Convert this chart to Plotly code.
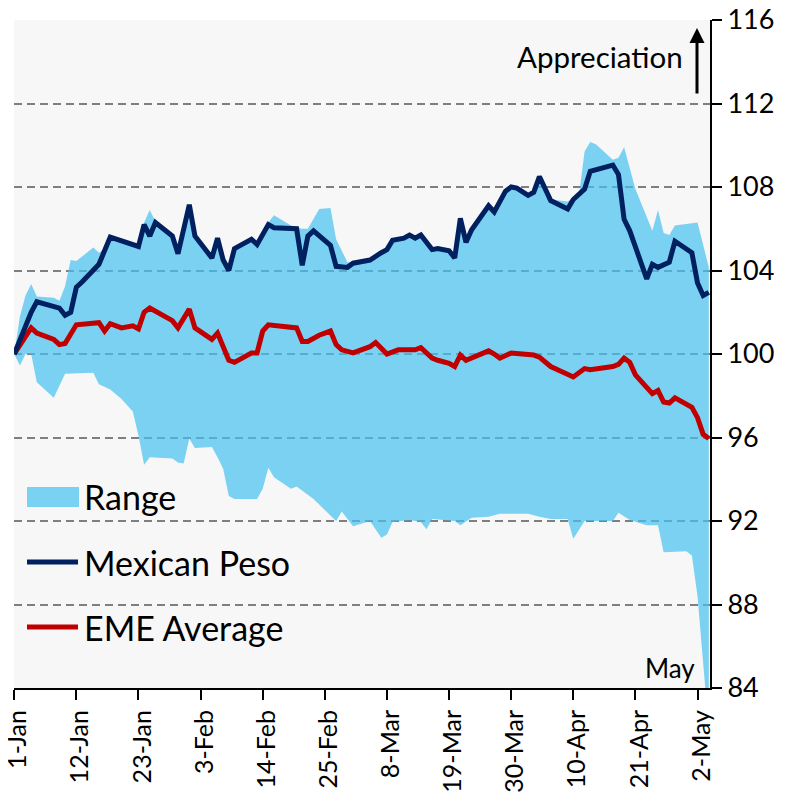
import plotly.graph_objects as go

YEAR = "2018-"

# ---- data ----
range_hi_dates = ["01-01", "01-02", "01-03", "01-04", "01-05", "01-08", "01-09", "01-10", "01-11", "01-12",
                  "01-15", "01-16", "01-17", "01-18", "01-23", "01-24", "01-25", "01-26", "01-29", "01-30",
                  "02-01", "02-02", "02-05", "02-06", "02-07", "02-08", "02-09", "02-12", "02-13", "02-15",
                  "02-16", "02-19", "02-20", "02-21", "02-22", "02-24", "02-26", "02-27", "03-01", "03-02",
                  "03-05", "03-07", "03-08", "03-09", "03-11", "03-12", "03-13", "03-14", "03-16", "03-17",
                  "03-19", "03-20", "03-21", "03-22", "03-23", "03-26", "03-27", "03-29", "03-30", "03-31",
                  "04-02", "04-03", "04-04", "04-06", "04-09", "04-10", "04-11", "04-12", "04-13", "04-14",
                  "04-17", "04-18", "04-19", "04-21", "04-24", "04-25", "04-26", "04-27", "04-28", "05-02",
                  "05-03", "05-04"]
range_hi = [100.0, 101.8, 102.8, 103.35, 102.75, 102.7, 102.55, 103.25, 104.5, 104.45,
            105.1, 104.85, 105.05, 105.65, 105.2, 106.3, 106.9, 106.35, 105.7, 104.85,
            107.2, 105.7, 104.65, 105.6, 104.55, 104.05, 105.1, 105.55, 105.3, 106.3,
            106.65, 106.15, 106.05, 106.0, 106.0, 106.95, 107.0, 105.5, 104.4, 104.4,
            104.55, 104.9, 105.05, 105.5, 105.6, 105.75, 105.6, 105.75, 105.05, 105.1,
            105.0, 104.65, 106.55, 105.4, 106.0, 107.15, 106.85, 107.85, 108.05, 108.0,
            107.65, 107.8, 108.55, 107.4, 107.3, 107.5, 107.6, 109.7, 110.15, 110.05,
            109.3, 109.4, 109.9, 107.9, 105.9, 106.9, 105.8, 105.7, 106.15, 106.3,
            105.2, 104.15]

range_lo_dates = ["01-01", "01-02", "01-03", "01-04", "01-05", "01-08", "01-10", "01-15", "01-16", "01-18",
                  "01-20", "01-22", "01-23", "01-24", "01-25", "01-29", "01-30", "01-31", "02-01", "02-02",
                  "02-05", "02-06", "02-07", "02-08", "02-09", "02-13", "02-14", "02-15", "02-16", "02-19",
                  "02-20", "02-23", "02-27", "02-28", "03-02", "03-05", "03-07", "03-08", "03-09", "03-12",
                  "03-14", "03-15", "03-16", "03-20", "03-21", "03-23", "03-26", "03-28", "04-02", "04-04",
                  "04-06", "04-09", "04-10", "04-12", "04-17", "04-18", "04-20", "04-23", "04-25", "04-26",
                  "04-30", "05-01", "05-02", "05-03", "05-04"]
range_lo = [100.0, 99.45, 100.0, 100.0, 98.65, 97.9, 99.05, 99.1, 98.55, 98.3,
            97.85, 97.25, 96.1, 94.7, 95.05, 95.0, 94.8, 94.75, 95.95, 95.5,
            95.55, 95.05, 94.5, 93.2, 93.05, 93.05, 93.55, 94.55, 94.1, 93.55,
            93.65, 93.05, 92.0, 92.45, 91.75, 92.0, 91.2, 91.35, 91.95, 92.05,
            91.95, 91.6, 92.1, 92.0, 91.8, 92.15, 92.2, 92.35, 92.35, 92.2,
            92.1, 92.1, 91.15, 92.0, 92.0, 92.4, 92.05, 91.8, 91.8, 90.5,
            90.55, 90.35, 88.4, 85.2, 82.0]

peso_dates = ["01-01", "01-03", "01-04", "01-05", "01-09", "01-10", "01-11", "01-12", "01-13", "01-16",
              "01-17", "01-18", "01-23", "01-24", "01-25", "01-26", "01-29", "01-30", "02-01", "02-02",
              "02-05", "02-06", "02-07", "02-08", "02-09", "02-12", "02-13", "02-15", "02-16", "02-20",
              "02-21", "02-22", "02-23", "02-26", "02-27", "03-01", "03-02", "03-05", "03-07", "03-08",
              "03-09", "03-11", "03-12", "03-13", "03-14", "03-16", "03-17", "03-19", "03-20", "03-21",
              "03-22", "03-23", "03-26", "03-27", "03-29", "03-30", "03-31", "04-02", "04-03", "04-04",
              "04-06", "04-09", "04-10", "04-12", "04-13", "04-17", "04-18", "04-19", "04-20", "04-23",
              "04-24", "04-25", "04-27", "04-28", "05-01", "05-02", "05-03", "05-04"]
peso = [100.0, 101.4, 102.0, 102.5, 102.2, 101.85, 102.0, 103.2, 103.45, 104.3,
        105.0, 105.6, 105.15, 106.2, 105.65, 106.3, 105.65, 104.8, 107.15, 105.65,
        104.6, 105.55, 104.5, 104.0, 105.05, 105.5, 105.25, 106.2, 106.05, 106.0,
        104.25, 105.65, 105.9, 105.2, 104.2, 104.15, 104.35, 104.5, 104.85, 105.0,
        105.45, 105.55, 105.7, 105.55, 105.7, 105.0, 105.05, 104.95, 104.6, 106.5,
        105.35, 105.95, 107.1, 106.8, 107.8, 108.0, 107.95, 107.6, 107.75, 108.5,
        107.35, 106.95, 107.4, 107.9, 108.75, 109.05, 108.6, 106.45, 105.9, 103.6,
        104.3, 104.15, 104.4, 105.4, 104.85, 103.4, 102.8, 102.95]

eme_dates = ["01-01", "01-03", "01-04", "01-05", "01-08", "01-09", "01-10", "01-12", "01-16", "01-17",
             "01-18", "01-20", "01-22", "01-23", "01-24", "01-25", "01-29", "01-30", "02-01", "02-02",
             "02-05", "02-06", "02-07", "02-08", "02-09", "02-12", "02-13", "02-14", "02-15", "02-17",
             "02-20", "02-21", "02-22", "02-24", "02-26", "02-27", "02-28", "03-02", "03-05", "03-06",
             "03-08", "03-10", "03-13", "03-14", "03-16", "03-17", "03-19", "03-20", "03-21", "03-22",
             "03-24", "03-26", "03-27", "03-28", "03-30", "04-03", "04-04", "04-06", "04-10", "04-12",
             "04-13", "04-17", "04-18", "04-19", "04-20", "04-21", "04-24", "04-25", "04-26", "04-27",
             "04-28", "05-01", "05-02", "05-03", "05-04"]
eme = [100.0, 100.8, 101.25, 101.0, 100.7, 100.45, 100.5, 101.4, 101.5, 101.1,
       101.45, 101.25, 101.35, 101.2, 102.0, 102.2, 101.6, 101.25, 102.15, 101.25,
       100.7, 101.0, 100.4, 99.7, 99.6, 100.05, 100.05, 101.1, 101.4, 101.35,
       101.25, 100.6, 100.6, 100.9, 101.1, 100.45, 100.2, 100.05, 100.35, 100.55,
       100.0, 100.2, 100.2, 100.3, 99.8, 99.7, 99.55, 99.4, 99.95, 99.7,
       99.9, 100.15, 100.0, 99.8, 100.05, 99.95, 99.85, 99.4, 98.9, 99.3,
       99.25, 99.4, 99.5, 99.8, 99.6, 99.0, 98.1, 98.25, 97.7, 97.65,
       97.9, 97.45, 96.95, 96.15, 95.95]

tick_dates = ["01-01", "01-12", "01-23", "02-03", "02-14", "02-25", "03-08", "03-19",
              "03-30", "04-10", "04-21", "05-02"]
tick_labels = ["1-Jan", "12-Jan", "23-Jan", "3-Feb", "14-Feb", "25-Feb", "8-Mar", "19-Mar",
               "30-Mar", "10-Apr", "21-Apr", "2-May"]
y_ticks = [84, 88, 92, 96, 100, 104, 108, 112, 116]

series_names = ["Range", "Mexican Peso", "EME Average"]

# ---- styles ----
FONT = "Lato"
FILL = "rgba(70,192,240,0.70)"
FILL_LEGEND = "rgb(122,210,243)"
PESO_C = "#002060"
EME_C = "#C00000"

# page body has an 8px default margin -> figure is placed at (8, 8) in the window
OFF = 8
WIN_W, WIN_H = 790, 798
W, H = WIN_W - OFF, WIN_H - OFF
# plot area in window pixels: x 14..710, y 20..688
PL, PR, PT, PB = 14, 710, 20, 688
ML, MT = PL - OFF, PT - OFF
MR, MB = WIN_W - PR, WIN_H - PB
PW, PH = PR - PL, PB - PT


def full(ds):
    return [YEAR + d for d in ds]


def px(xp):
    return (xp - PL) / PW


def py(yp):
    return (PB - yp) / PH


poly_x = full(range_hi_dates) + full(range_lo_dates)[::-1]
poly_y = range_hi + range_lo[::-1]

fig = go.Figure()
fig.add_trace(go.Scatter(x=poly_x, y=poly_y, mode="lines", fill="toself", fillcolor=FILL,
                         line=dict(width=0), name=series_names[0], showlegend=False,
                         hoverinfo="skip"))
fig.add_trace(go.Scatter(x=full(eme_dates), y=eme, mode="lines", name=series_names[2],
                         line=dict(color=EME_C, width=5), showlegend=False))
fig.add_trace(go.Scatter(x=full(peso_dates), y=peso, mode="lines", name=series_names[1],
                         line=dict(color=PESO_C, width=5), showlegend=False))

shapes = [
    dict(type="rect", xref="paper", yref="paper", x0=px(27), x1=px(79), y0=py(507), y1=py(487),
         fillcolor=FILL_LEGEND, line=dict(width=0)),
    dict(type="line", xref="paper", yref="paper", x0=px(27), x1=px(78), y0=py(562), y1=py(562),
         line=dict(color=PESO_C, width=5)),
    dict(type="line", xref="paper", yref="paper", x0=px(27), x1=px(78), y0=py(627), y1=py(627),
         line=dict(color=EME_C, width=5)),
]

LEG_SIZE = 34
annotations = [
    dict(xref="paper", yref="paper", x=px(82), y=py(497), xanchor="left", yanchor="middle",
         text=series_names[0], showarrow=False, font=dict(family=FONT, size=LEG_SIZE, color="black")),
    dict(xref="paper", yref="paper", x=px(82), y=py(562), xanchor="left", yanchor="middle",
         text=series_names[1], showarrow=False, font=dict(family=FONT, size=LEG_SIZE, color="black")),
    dict(xref="paper", yref="paper", x=px(82), y=py(627), xanchor="left", yanchor="middle",
         text=series_names[2], showarrow=False, font=dict(family=FONT, size=LEG_SIZE, color="black")),
    dict(xref="paper", yref="paper", x=px(685), y=py(57), xanchor="right", yanchor="middle",
         text="Appreciation", showarrow=False, font=dict(family=FONT, size=29.5, color="black")),
    dict(xref="paper", yref="paper", x=px(697), y=py(668), xanchor="right", yanchor="middle",
         text="May", showarrow=False, font=dict(family=FONT, size=26, color="black")),
    dict(xref="paper", yref="paper", x=px(697), y=py(28), text="", showarrow=True,
         ax=0, ay=67, arrowhead=2, arrowsize=1, arrowwidth=3, arrowcolor="black"),
]

fig.update_layout(
    width=W, height=H,
    margin=dict(l=ML, r=MR, t=MT, b=MB, pad=0, autoexpand=False),
    paper_bgcolor="white",
    plot_bgcolor="#F7F7F7",
    showlegend=False,
    font=dict(family=FONT, size=25, color="black"),
    shapes=shapes,
    annotations=annotations,
    xaxis=dict(
        type="date",
        range=["2017-12-31 23:00", YEAR + "05-04 05:00"],
        tickmode="array", tickvals=full(tick_dates), ticktext=tick_labels,
        tickangle=-90, ticks="outside", ticklen=10, tickwidth=2, tickcolor="black",
        showline=True, linecolor="black", linewidth=2,
        showgrid=False, zeroline=False, automargin=False,
        ticklabeloverflow="allow", ticklabelshift=4,
        tickfont=dict(family=FONT, size=25, color="black"),
    ),
    yaxis=dict(
        side="right",
        range=[84, 116],
        tickmode="array", tickvals=y_ticks, ticktext=[str(v) for v in y_ticks],
        ticks="outside", ticklen=10, tickwidth=2, tickcolor="black",
        showline=True, linecolor="black", linewidth=2,
        showgrid=True, gridcolor="#7f7f7f", gridwidth=2, griddash="8px,5px",
        zeroline=False, automargin=False, ticklabeloverflow="allow",
        tickfont=dict(family=FONT, size=27, color="black"),
    ),
)

fig.write_html("out.html")
